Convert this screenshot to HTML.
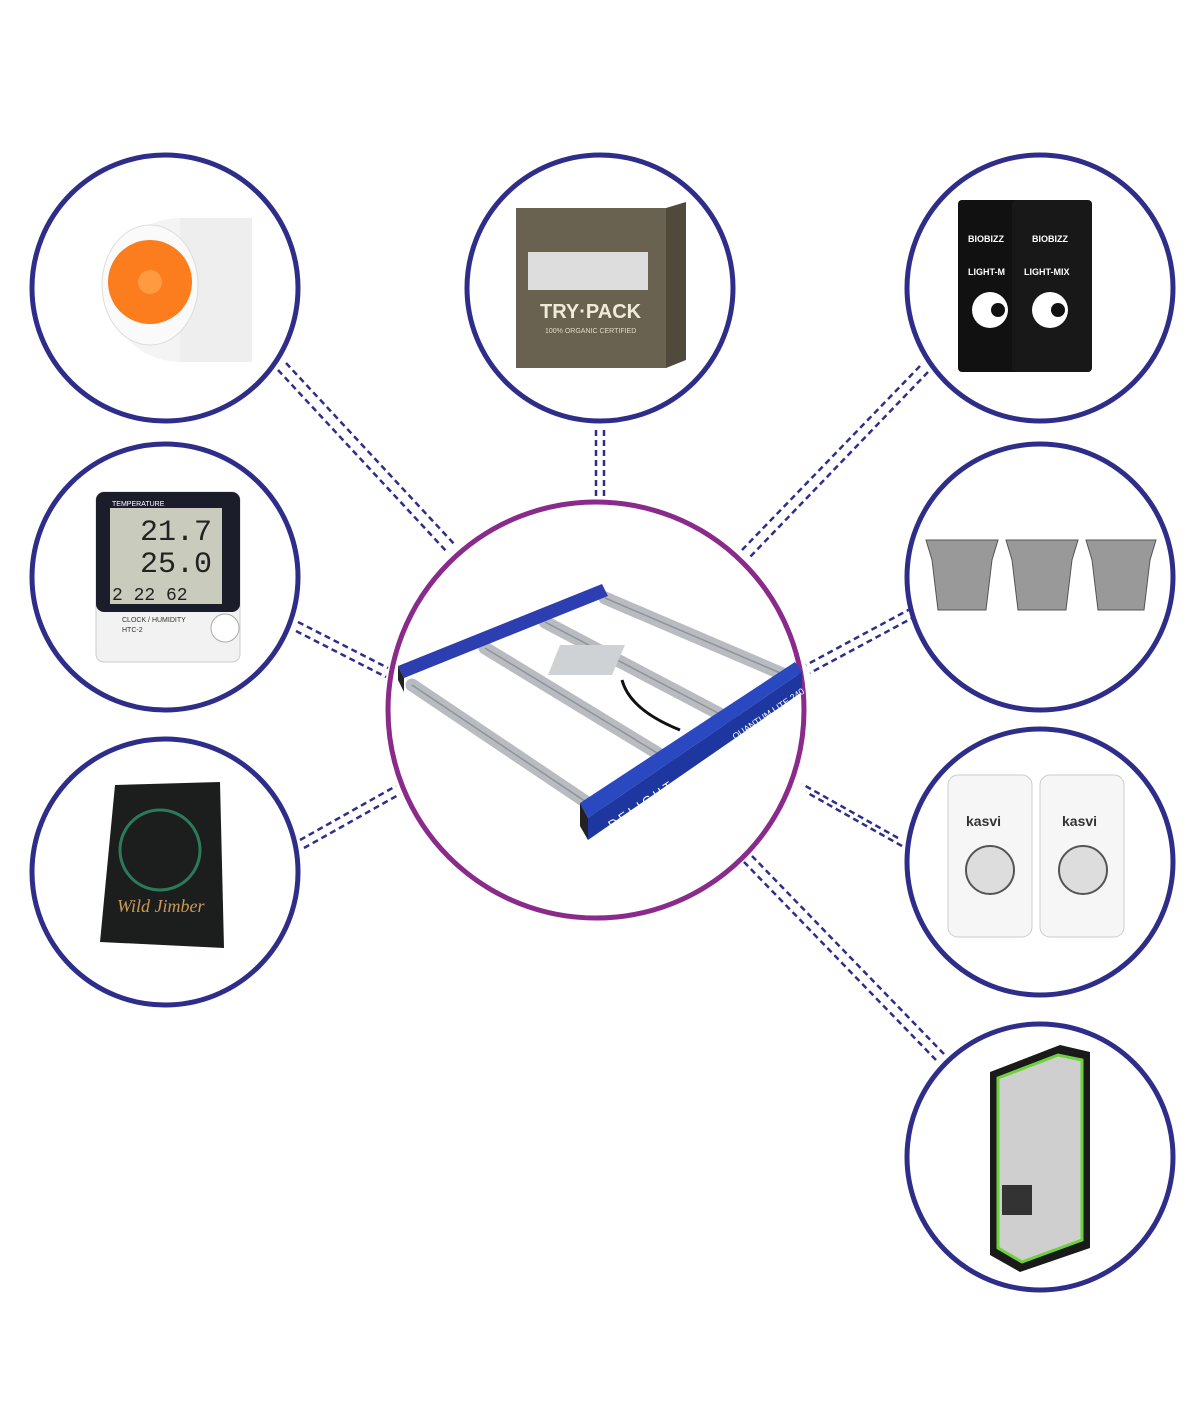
<!DOCTYPE html>
<html><head><meta charset="utf-8"><style>
html,body{margin:0;padding:0;background:#fff}
svg{display:block}
</style></head><body>
<svg width="1200" height="1422" viewBox="0 0 1200 1422" xmlns="http://www.w3.org/2000/svg" font-family="Liberation Sans, sans-serif">
<rect width="1200" height="1422" fill="#fff"/>
<g stroke="#2e2e8a" stroke-width="2.5" stroke-dasharray="6 4" fill="none">
<line x1="278" y1="370" x2="447" y2="552"/><line x1="286" y1="363" x2="456" y2="546"/>
<line x1="596" y1="430" x2="596" y2="496"/><line x1="604" y1="430" x2="604" y2="496"/>
<line x1="920" y1="366" x2="742" y2="550"/><line x1="928" y1="372" x2="750" y2="557"/>
<line x1="298" y1="622" x2="388" y2="668"/><line x1="296" y1="631" x2="386" y2="677"/>
<line x1="912" y1="608" x2="806" y2="665"/><line x1="916" y1="616" x2="810" y2="673"/>
<line x1="300" y1="840" x2="396" y2="786"/><line x1="304" y1="848" x2="400" y2="794"/>
<line x1="898" y1="838" x2="802" y2="784"/><line x1="902" y1="846" x2="806" y2="792"/>
<line x1="936" y1="1060" x2="744" y2="862"/><line x1="944" y1="1054" x2="752" y2="856"/>
</g>
<g fill="#fff" stroke="#2e2e8a" stroke-width="5">
<circle cx="165" cy="288" r="133"/><circle cx="600" cy="288" r="133"/><circle cx="1040" cy="288" r="133"/>
<circle cx="165" cy="577" r="133"/><circle cx="1040" cy="577" r="133"/>
<circle cx="165" cy="872" r="133"/><circle cx="1040" cy="862" r="133"/><circle cx="1040" cy="1157" r="133"/>
</g>
<circle cx="596" cy="710" r="208" fill="#fff" stroke="#8a2a8a" stroke-width="5"/>
<!-- fan -->
<ellipse cx="180" cy="290" rx="72" ry="72" fill="#f4f4f4"/>
<rect x="180" y="218" width="72" height="144" fill="#eee"/>
<ellipse cx="150" cy="285" rx="48" ry="60" fill="#fafafa" stroke="#ddd"/>
<circle cx="150" cy="282" r="42" fill="#fb7d1e"/>
<circle cx="150" cy="282" r="12" fill="#ff9a40"/>
<!-- trypack -->
<rect x="516" y="208" width="150" height="160" fill="#6a6250"/>
<polygon points="666,208 686,202 686,360 666,368" fill="#4f4a3c"/>
<rect x="528" y="252" width="120" height="38" fill="#ddd"/>
<text x="540" y="318" fill="#f0ead8" font-size="20" font-weight="bold">TRY·PACK</text>
<text x="545" y="333" fill="#e0d8c0" font-size="7">100% ORGANIC CERTIFIED</text>
<!-- soil bags -->
<rect x="958" y="200" width="62" height="172" rx="4" fill="#111"/>
<rect x="1012" y="200" width="80" height="172" rx="4" fill="#181818"/>
<text x="968" y="242" fill="#fff" font-size="9" font-weight="bold">BIOBIZZ</text>
<text x="1032" y="242" fill="#fff" font-size="9" font-weight="bold">BIOBIZZ</text>
<text x="968" y="275" fill="#fff" font-size="9" font-weight="bold">LIGHT-M</text>
<text x="1024" y="275" fill="#fff" font-size="9" font-weight="bold">LIGHT-MIX</text>
<circle cx="990" cy="310" r="18" fill="#fff"/><circle cx="998" cy="310" r="7" fill="#111"/>
<circle cx="1050" cy="310" r="18" fill="#fff"/><circle cx="1058" cy="310" r="7" fill="#111"/>
<!-- thermometer -->
<rect x="96" y="492" width="144" height="170" rx="8" fill="#f2f2f2" stroke="#ccc"/>
<rect x="96" y="492" width="144" height="120" rx="8" fill="#1b1d2a"/>
<rect x="110" y="508" width="112" height="96" fill="#c9cbbc"/>
<text x="112" y="506" fill="#fff" font-size="7">TEMPERATURE</text>
<text x="140" y="540" fill="#222" font-size="30" font-family="Liberation Mono,monospace">21.7</text>
<text x="140" y="572" fill="#222" font-size="30" font-family="Liberation Mono,monospace">25.0</text>
<text x="112" y="600" fill="#222" font-size="18" font-family="Liberation Mono,monospace">2 22 62</text>
<text x="122" y="622" fill="#333" font-size="7">CLOCK / HUMIDITY</text>
<text x="122" y="632" fill="#333" font-size="7">HTC-2</text>
<circle cx="225" cy="628" r="14" fill="#fff" stroke="#aaa"/>
<!-- bag -->
<polygon points="115,785 220,782 224,948 100,942" fill="#1c1e1e"/>
<circle cx="160" cy="850" r="40" fill="none" stroke="#2b7a5a" stroke-width="3"/>
<text x="117" y="912" fill="#c99a56" font-size="18" font-style="italic" font-family="Liberation Serif,serif">Wild Jimber</text>
<!-- pots -->
<g fill="#999" stroke="#555" stroke-width="1">
<polygon points="926,540 998,540 992,560 986,610 938,610 932,560"/>
<polygon points="1006,540 1078,540 1072,560 1066,610 1018,610 1012,560"/>
<polygon points="1086,540 1156,540 1150,560 1144,610 1098,610 1092,560"/>
</g>
<!-- timers -->
<g fill="#f6f6f6" stroke="#ccc">
<rect x="948" y="775" width="84" height="162" rx="10"/>
<rect x="1040" y="775" width="84" height="162" rx="10"/>
</g>
<text x="966" y="826" fill="#333" font-size="14" font-weight="bold">kasvi</text>
<text x="1062" y="826" fill="#333" font-size="14" font-weight="bold">kasvi</text>
<circle cx="990" cy="870" r="24" fill="#ddd" stroke="#555" stroke-width="2"/>
<circle cx="1083" cy="870" r="24" fill="#ddd" stroke="#555" stroke-width="2"/>
<!-- tent -->
<polygon points="990,1072 1060,1045 1090,1052 1090,1248 1020,1272 990,1255" fill="#1a1a1a"/>
<polygon points="998,1078 1058,1055 1082,1060 1082,1240 1022,1262 998,1248" fill="#cfcfcf" stroke="#6cd13a" stroke-width="3"/>
<rect x="1002" y="1185" width="30" height="30" fill="#333"/>
<!-- grow light -->
<g>
<g stroke="#b8bcc0" stroke-width="13" stroke-linecap="round">
<line x1="412" y1="685" x2="598" y2="810"/>
<line x1="485" y1="648" x2="672" y2="762"/>
<line x1="545" y1="622" x2="735" y2="722"/>
<line x1="605" y1="598" x2="785" y2="675"/>
</g>
<g stroke="#8f9398" stroke-width="1.5">
<line x1="412" y1="685" x2="598" y2="810"/>
<line x1="485" y1="648" x2="672" y2="762"/>
<line x1="545" y1="622" x2="735" y2="722"/>
<line x1="605" y1="598" x2="785" y2="675"/>
</g>
<polygon points="398,666 602,584 608,596 404,678" fill="#2d3fb0"/>
<polygon points="398,666 404,678 404,692 398,680" fill="#222"/>
<polygon points="580,803 795,662 802,672 588,818" fill="#2a48c0"/>
<polygon points="580,803 588,818 588,840 580,826" fill="#222"/>
<polygon points="588,818 802,672 802,692 588,840" fill="#1e36a0"/>
<polygon points="560,645 625,645 612,675 548,675" fill="#cfd2d5"/>
<path d="M622 680 Q630 710 680 730" stroke="#111" stroke-width="3" fill="none"/>
<text x="612" y="830" fill="#fff" font-size="13" letter-spacing="3" transform="rotate(-34 612 830)">DELIGHT</text>
<text x="735" y="740" fill="#fff" font-size="9" transform="rotate(-34 735 740)">QUANTUM LITE 240</text>
</g>
</svg>
</body></html>
